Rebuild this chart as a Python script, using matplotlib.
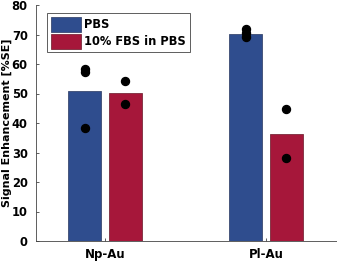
import matplotlib
matplotlib.use("Agg")
import matplotlib.pyplot as plt
import numpy as np

categories = ["Np-Au", "Pl-Au"]
series_names = ["PBS", "10% FBS in PBS"]
bar_pbs = [51.0, 70.3]
bar_fbs = [50.3, 36.3]
pts_pbs = [[58.4, 57.2, 38.2], [71.8, 70.4, 69.0]]
pts_fbs = [[54.1, 46.5], [44.7, 28.0]]
yticks = [0, 10, 20, 30, 40, 50, 60, 70, 80]

blue = "#2F4D8E"
red = "#A6173A"

fig = plt.figure(figsize=(3.37, 2.63), dpi=100)
ax = fig.add_axes([36/337, 22/263, 301/337, 236/263])

x = np.arange(1, len(categories) + 1)
off = 0.125
w = 0.205
ax.bar(x - off, bar_pbs, w, color=blue, edgecolor="#3a4a70", linewidth=0.6, label=series_names[0], zorder=2)
ax.bar(x + off, bar_fbs, w, color=red, edgecolor="#7a2a3a", linewidth=0.6, label=series_names[1], zorder=2)
for i in range(len(categories)):
    ax.scatter([x[i] - off] * len(pts_pbs[i]), pts_pbs[i], s=33, color="black", zorder=3)
    ax.scatter([x[i] + off] * len(pts_fbs[i]), pts_fbs[i], s=33, color="black", zorder=3)

ax.set_xlim(0.572, 2.44)
ax.set_ylim(0, 80)
ax.set_yticks(yticks)
ax.set_xticks(x)
ax.set_xticklabels(categories, fontweight="bold", fontsize=8.5)
for t in ax.get_yticklabels():
    t.set_fontweight("bold")
    t.set_fontsize(8.3)
ax.tick_params(axis="both", direction="in", length=2.5, width=0.6, color="#444444")
ax.tick_params(axis="y", pad=6)
ax.tick_params(axis="x", pad=5)
ax.spines["top"].set_visible(False)
ax.spines["right"].set_visible(False)
ax.spines["left"].set_color("#444444")
ax.spines["bottom"].set_color("#444444")
ax.spines["left"].set_linewidth(0.6)
ax.spines["bottom"].set_linewidth(0.6)
ax.set_ylabel("Signal Enhancement [%SE]", fontweight="bold", fontsize=8.0)
ax.yaxis.set_label_coords(-24/301, 0.5)

leg = ax.legend(loc="upper left", bbox_to_anchor=(0.038, 0.965), prop={"weight": "bold", "size": 8.3},
                frameon=True, fancybox=False, edgecolor="#444444", framealpha=1,
                handlelength=2.6, handleheight=1.6, handletextpad=0.3, borderpad=0.3,
                labelspacing=0.2, borderaxespad=0)
leg.get_frame().set_linewidth(0.6)

fig.savefig("out.png", dpi=100)
